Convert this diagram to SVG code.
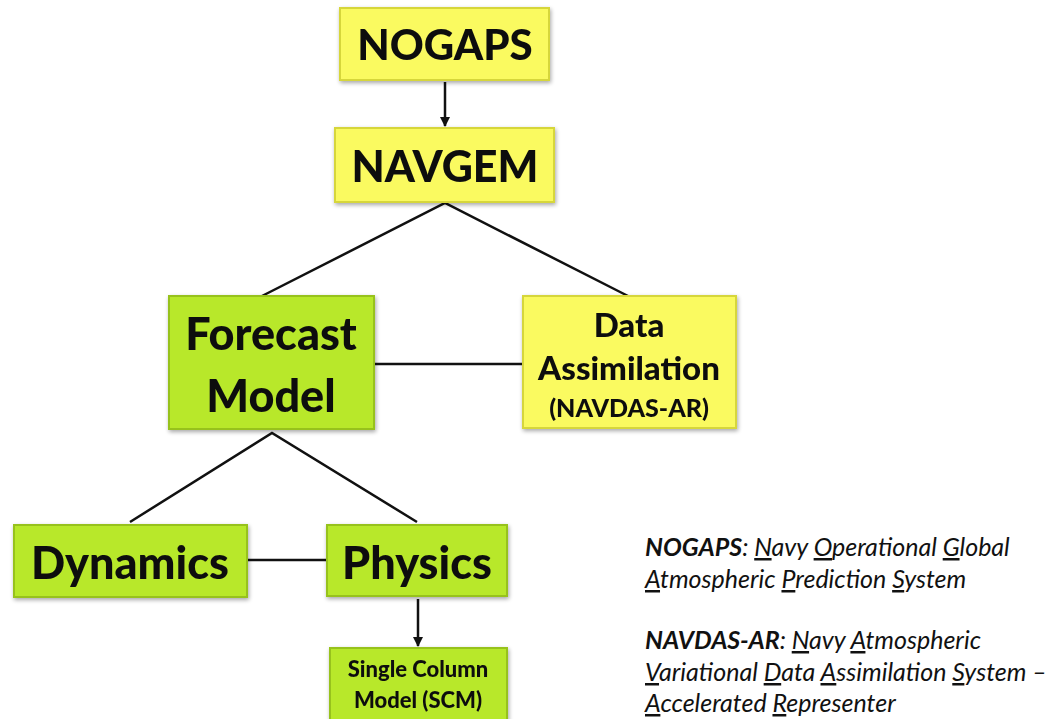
<svg xmlns="http://www.w3.org/2000/svg" width="1062" height="719" viewBox="0 0 1062 719">
<style>
.y{fill:#FAFA60;stroke:#D6D63A;stroke-width:2}
.g{fill:#B8E82A;stroke:#97C21C;stroke-width:2}
.t{font-family:Lato,"Open Sans",sans-serif;font-weight:900;fill:#111;text-anchor:middle}
.c{stroke:#111;stroke-width:2.5;fill:none}
.l{font-family:Lato,"Open Sans",sans-serif;font-style:italic;font-size:25px;fill:#111}
.u{text-decoration:underline}
</style>
<defs>
<filter id="sh" x="-10%" y="-10%" width="120%" height="130%">
<feGaussianBlur in="SourceAlpha" stdDeviation="2"/>
<feOffset dx="1" dy="2"/>
<feComponentTransfer><feFuncA type="linear" slope="0.35"/></feComponentTransfer>
<feMerge><feMergeNode/><feMergeNode in="SourceGraphic"/></feMerge>
</filter>
<marker id="ah" markerWidth="10" markerHeight="10" refX="9" refY="5" orient="auto" markerUnits="userSpaceOnUse">
<path d="M0,0 L10,5 L0,10 z" fill="#111"/>
</marker>
</defs>
<g id="connectors">
<line class="c" x1="445" y1="82" x2="445" y2="126" marker-end="url(#ah)"/>
<polyline class="c" points="262,296 445,203 628,296"/>
<line class="c" x1="375" y1="364" x2="523" y2="364"/>
<polyline class="c" points="130,522 272,433 417,522"/>
<line class="c" x1="247" y1="560" x2="327" y2="560"/>
<line class="c" x1="418" y1="599" x2="418" y2="646" marker-end="url(#ah)"/>
</g>
<g id="nogaps" filter="url(#sh)">
<rect class="y" x="340" y="8" width="209" height="72"/>
<text class="t" x="445" y="60" font-size="42">NOGAPS</text>
</g>
<g id="navgem" filter="url(#sh)">
<rect class="y" x="335" y="128" width="219" height="74"/>
<text class="t" x="445" y="182" font-size="43">NAVGEM</text>
</g>
<g id="forecast" filter="url(#sh)">
<rect class="g" x="169" y="296" width="205" height="133"/>
<text class="t" x="271" y="350" font-size="45">Forecast</text>
<text class="t" x="271" y="412" font-size="45">Model</text>
</g>
<g id="data" filter="url(#sh)">
<rect class="y" x="523" y="296" width="213" height="132"/>
<text class="t" x="629" y="337" font-size="33">Data</text>
<text class="t" x="629" y="380" font-size="33">Assimilation</text>
<text class="t" x="629" y="417" font-size="25">(NAVDAS-AR)</text>
</g>
<g id="dynamics" filter="url(#sh)">
<rect class="g" x="14" y="525" width="233" height="72"/>
<text class="t" x="130" y="579" font-size="45">Dynamics</text>
</g>
<g id="physics" filter="url(#sh)">
<rect class="g" x="327" y="525" width="180" height="71"/>
<text class="t" x="417" y="579" font-size="45">Physics</text>
</g>
<g id="scm" filter="url(#sh)">
<rect class="g" x="330" y="648" width="177" height="72"/>
<text class="t" x="418" y="677" font-size="22">Single Column</text>
<text class="t" x="418" y="708" font-size="22">Model (SCM)</text>
</g>
<g id="legend">
<text class="l" x="645" y="556"><tspan font-weight="bold">NOGAPS</tspan>: <tspan class="u">N</tspan>avy <tspan class="u">O</tspan>perational <tspan class="u">G</tspan>lobal</text>
<text class="l" x="645" y="588"><tspan class="u">A</tspan>tmospheric <tspan class="u">P</tspan>rediction <tspan class="u">S</tspan>ystem</text>
<text class="l" x="645" y="649"><tspan font-weight="bold">NAVDAS-AR</tspan>: <tspan class="u">N</tspan>avy <tspan class="u">A</tspan>tmospheric</text>
<text class="l" x="645" y="681"><tspan class="u">V</tspan>ariational <tspan class="u">D</tspan>ata <tspan class="u">A</tspan>ssimilation  <tspan class="u">S</tspan>ystem –</text>
<text class="l" x="645" y="712"><tspan class="u">A</tspan>ccelerated <tspan class="u">R</tspan>epresenter</text>
</g>
</svg>
